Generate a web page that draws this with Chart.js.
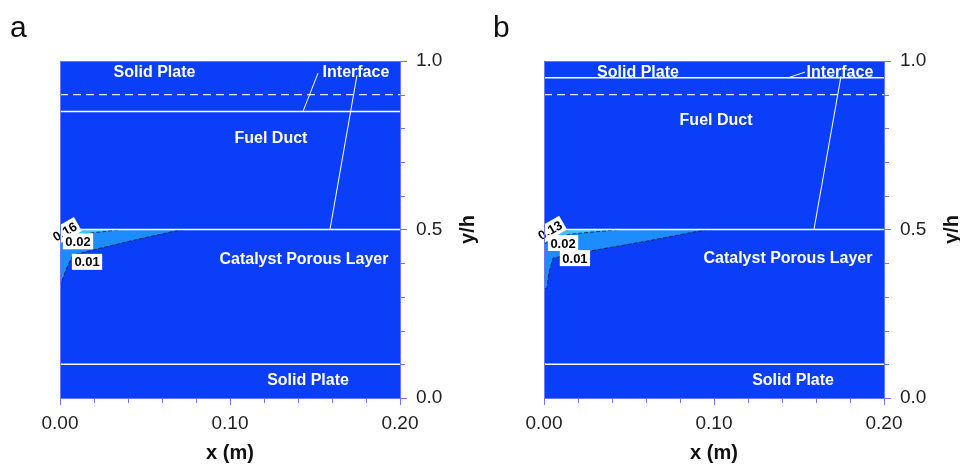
<!DOCTYPE html>
<html>
<head>
<meta charset="utf-8">
<script src="https://cdn.jsdelivr.net/npm/chart.js@4.4.1/dist/chart.umd.min.js"></script>
<style>
  html, body { margin: 0; padding: 0; background: #fff; }
  #wrap { position: relative; width: 960px; height: 464px; }
  .panel { position: absolute; top: 0; width: 480px; height: 464px; }
</style>
</head>
<body>
<div id="wrap">
  <div class="panel" style="left:0"><canvas id="chartA" width="480" height="464"></canvas></div>
  <div class="panel" style="left:480px"><canvas id="chartB" width="480" height="464"></canvas></div>
</div>
<script>
// domain
const xSpan = [0, 0.2];
const xMajorStep = 0.1;
const yMajorStep = 0.5;

// white layer boundaries (y/h)
const layerLinesA = [0.85, 0.5, 0.1];
const layerLinesB = [0.95, 0.5, 0.1];
const dashedLevel = 0.9;

// contour outlines, [x (m), y/h]
const contour01A = [[0, 0.5], [0.0718, 0.5], [0.045, 0.47], [0.02, 0.44], [0.0076, 0.424], [0.0035, 0.38], [0.0012, 0.347], [0, 0.345]];
const contour02A = [[0, 0.5], [0.0365, 0.5], [0.012, 0.486], [0.004, 0.472], [0, 0.462]];
const contourCoreA = [[0, 0.5], [0.012, 0.5], [0.004, 0.49], [0, 0.478]];
const contour01B = [[0, 0.5], [0.0959, 0.5], [0.06, 0.465], [0.02, 0.43], [0.0053, 0.415], [0.0028, 0.37], [0.0018, 0.326], [0, 0.324]];
const contour02B = [[0, 0.5], [0.0447, 0.5], [0.015, 0.486], [0.004, 0.468], [0, 0.456]];
const contourCoreB = [[0, 0.5], [0.015, 0.5], [0.005, 0.49], [0, 0.476]];

// contour labels
const contourValuesA = ['0.16', '0.02', '0.01'];
const contourValuesB = ['0.13', '0.02', '0.01'];
const contourPosA = [[0.0028, 0.494], [0.0106, 0.465], [0.0159, 0.404]];
const contourPosB = [[0.0035, 0.498], [0.0112, 0.46], [0.0182, 0.415]];

// region labels
const regionNames = ['Solid Plate', 'Interface', 'Fuel Duct', 'Catalyst Porous Layer', 'Solid Plate'];
const regionPosA = [[0.0556, 0.967], [0.1741, 0.967], [0.1241, 0.769], [0.1435, 0.412], [0.1459, 0.053]];
const regionPosB = [[0.0553, 0.967], [0.1741, 0.967], [0.1012, 0.822], [0.1435, 0.415], [0.1465, 0.053]];

// leader lines from "Interface"
const leadersA = [[[0.1518, 0.964], [0.1429, 0.85]], [[0.1747, 0.958], [0.1588, 0.5]]];
const leadersB = [[[0.1535, 0.967], [0.1435, 0.95]], [[0.1747, 0.955], [0.1588, 0.5]]];

const fontFam = '"Liberation Sans", Arial, sans-serif';
const plotBlue = '#0a3ef8';
const axisBlue = '#6a78ff';

function isMajor(v, step) {
    return Math.abs(v / step - Math.round(v / step)) < 1e-6;
}
function pts(arr) {
    return arr.map(p => ({ x: p[0], y: p[1] }));
}

function makePanel(canvasId, letter, padLeft, p) {
    const datasets = [];
    // contours (biggest first, underneath)
    const fills = ['#1c8cff', '#3cc0ff', '#3ff0d4'];
    p.contours.forEach((c, i) => {
        datasets.push({
            data: pts(c), showLine: true, fill: 'shape', tension: 0,
            backgroundColor: fills[i], borderColor: 'rgba(10,20,60,0.8)',
            borderWidth: 1, borderDash: [4, 2], pointRadius: 0, order: 12 - i
        });
    });
    p.layers.forEach(y => {
        datasets.push({
            data: xSpan.map(x => ({ x: x, y: y })), showLine: true,
            borderColor: '#ffffff', borderWidth: 1.5, pointRadius: 0, order: 2
        });
    });
    datasets.push({
        data: xSpan.map(x => ({ x: x, y: dashedLevel })), showLine: true,
        borderColor: '#dfe4ff', borderWidth: 1.3, borderDash: [8, 5], pointRadius: 0, order: 2
    });
    p.leaders.forEach(l => {
        datasets.push({
            data: pts(l), showLine: true, borderColor: '#ffffff',
            borderWidth: 1, pointRadius: 0, order: 1
        });
    });

    const panelPlugin = {
        id: 'panelDeco',
        beforeDraw(chart) {
            const a = chart.chartArea, ctx = chart.ctx;
            ctx.save();
            ctx.fillStyle = plotBlue;
            ctx.fillRect(a.left, a.top, a.right - a.left, a.bottom - a.top);
            ctx.restore();
        },
        afterDatasetsDraw(chart) {
            const ctx = chart.ctx, xs = chart.scales.x, ys = chart.scales.y;
            ctx.save();
            // region labels
            ctx.fillStyle = '#ffffff';
            ctx.font = 'bold 16px ' + fontFam;
            ctx.textAlign = 'center';
            ctx.textBaseline = 'middle';
            regionNames.forEach((t, i) => {
                ctx.fillText(t, xs.getPixelForValue(p.regionPos[i][0]), ys.getPixelForValue(p.regionPos[i][1]));
            });
            // contour labels in white boxes
            ctx.font = 'bold 13px ' + fontFam;
            p.contourValues.forEach((t, i) => {
                const cx = xs.getPixelForValue(p.contourPos[i][0]);
                const cy = ys.getPixelForValue(p.contourPos[i][1]);
                ctx.save();
                ctx.translate(cx, cy);
                if (i === 0) ctx.rotate(-0.52);
                const w = ctx.measureText(t).width + 5;
                ctx.fillStyle = '#ffffff';
                ctx.fillRect(-w / 2, -8, w, 16);
                ctx.fillStyle = '#000000';
                ctx.fillText(t, 0, 1);
                ctx.restore();
            });
            ctx.restore();
        },
        afterDraw(chart) {
            const ctx = chart.ctx, a = chart.chartArea, xs = chart.scales.x, ys = chart.scales.y;
            ctx.save();
            // frame top / left
            ctx.strokeStyle = axisBlue;
            ctx.lineWidth = 1;
            ctx.beginPath();
            ctx.moveTo(a.left + 0.5, a.bottom);
            ctx.lineTo(a.left + 0.5, a.top + 0.5);
            ctx.lineTo(a.right, a.top + 0.5);
            ctx.stroke();
            // minor ticks
            ctx.beginPath();
            xs.ticks.forEach(t => {
                if (isMajor(t.value, xMajorStep)) return;
                const px = Math.round(xs.getPixelForValue(t.value)) + 0.5;
                ctx.moveTo(px, a.bottom);
                ctx.lineTo(px, a.bottom + 5);
            });
            ys.ticks.forEach(t => {
                if (isMajor(t.value, yMajorStep)) return;
                const py = Math.round(ys.getPixelForValue(t.value)) + 0.5;
                ctx.moveTo(a.right, py);
                ctx.lineTo(a.right + 5, py);
            });
            ctx.stroke();
            // axis titles
            ctx.fillStyle = '#111';
            ctx.font = 'bold 20px ' + fontFam;
            ctx.textAlign = 'center';
            ctx.textBaseline = 'middle';
            ctx.fillText('x (m)', (a.left + a.right) / 2, 453);
            ctx.save();
            ctx.translate(a.right + 68, (a.top + a.bottom) / 2);
            ctx.rotate(-Math.PI / 2);
            ctx.fillText('y/h', 0, 0);
            ctx.restore();
            // panel letter
            ctx.font = '30px ' + fontFam;
            ctx.textAlign = 'left';
            ctx.textBaseline = 'alphabetic';
            ctx.fillText(letter, p.letterX, 37);
            ctx.restore();
        }
    };

    return new Chart(document.getElementById(canvasId), {
        type: 'scatter',
        data: { datasets: datasets },
        options: {
            responsive: false,
            animation: false,
            layout: { padding: { left: padLeft, top: 61, right: 0, bottom: 0 } },
            plugins: { legend: { display: false }, tooltip: { enabled: false } },
            scales: {
                x: {
                    type: 'linear', position: 'bottom', min: xSpan[0], max: xSpan[1],
                    afterFit(scale) { scale.height = 66; },
                    border: { color: axisBlue, width: 1 },
                    grid: {
                        drawOnChartArea: false, drawTicks: true, tickLength: 7,
                        tickColor: c => (c.tick && isMajor(c.tick.value, xMajorStep)) ? axisBlue : 'rgba(0,0,0,0)'
                    },
                    ticks: {
                        stepSize: 0.02, autoSkip: false, maxRotation: 0, padding: 7,
                        color: '#222', font: { family: fontFam, size: 19 },
                        callback: v => isMajor(v, xMajorStep) ? v.toFixed(2) : ''
                    }
                },
                y: {
                    type: 'linear', position: 'right', min: 0, max: 1,
                    afterFit(scale) { scale.width = p.yWidth; },
                    border: { color: axisBlue, width: 1 },
                    grid: {
                        drawOnChartArea: false, drawTicks: true, tickLength: 7,
                        tickColor: c => (c.tick && isMajor(c.tick.value, yMajorStep)) ? axisBlue : 'rgba(0,0,0,0)'
                    },
                    ticks: {
                        stepSize: 0.1, autoSkip: false, padding: 9,
                        color: '#222', font: { family: fontFam, size: 19 },
                        callback: v => isMajor(v, yMajorStep) ? v.toFixed(1) : ''
                    }
                }
            }
        },
        plugins: [panelPlugin]
    });
}

makePanel('chartA', 'a', 60, {
    contours: [contour01A, contour02A, contourCoreA],
    layers: layerLinesA, leaders: leadersA,
    contourValues: contourValuesA, contourPos: contourPosA,
    regionPos: regionPosA, yWidth: 80, letterX: 10
});
makePanel('chartB', 'b', 64, {
    contours: [contour01B, contour02B, contourCoreB],
    layers: layerLinesB, leaders: leadersB,
    contourValues: contourValuesB, contourPos: contourPosB,
    regionPos: regionPosB, yWidth: 76, letterX: 13
});
</script>
</body>
</html>
